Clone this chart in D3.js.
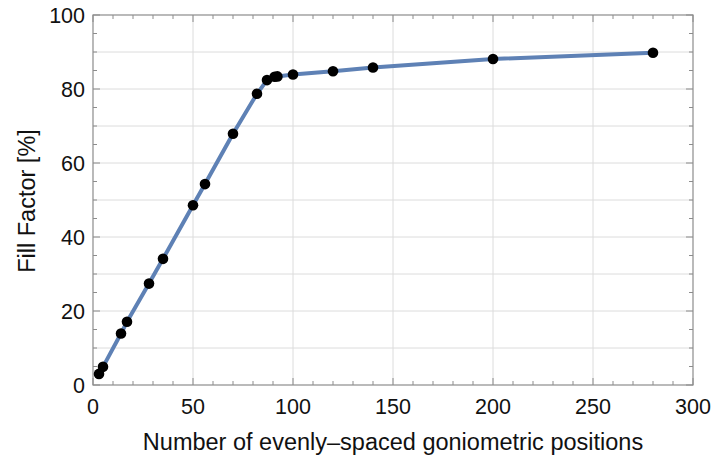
<!DOCTYPE html>
<html>
<head>
<meta charset="utf-8">
<script src="https://cdn.jsdelivr.net/npm/d3@7"></script>
<style>
  html, body { margin: 0; padding: 0; background: #fff; }
  svg { display: block; font-family: "Liberation Sans", Arial, sans-serif; }
</style>
</head>
<body>
<svg id="chart" width="715" height="459"></svg>
<script>
// Fill factor vs. number of goniometric positions
const positions = [3, 5, 14, 17, 28, 35, 50, 56, 70, 82, 87, 90.8, 92.2, 100, 120, 140, 200, 280];
const fillFactor = [3.0, 4.9, 13.9, 17.1, 27.4, 34.1, 48.6, 54.3, 67.9, 78.7, 82.4, 83.3, 83.4, 83.9, 84.8, 85.8, 88.1, 89.8];

const xTicks = [0, 50, 100, 150, 200, 250, 300];
const yTicks = [0, 20, 40, 60, 80, 100];

const svg = d3.select("#chart");
const plot = { left: 93, right: 693, top: 15, bottom: 385 };

const x = d3.scaleLinear().domain([0, 300]).range([plot.left, plot.right]);
const y = d3.scaleLinear().domain([0, 100]).range([plot.bottom, plot.top]);

const frameColor = "#8c8c8c";
const gridColor = "#dcdcdc";

// grid lines
const g = svg.append("g");
g.selectAll(".gx").data(d3.range(50, 300, 50)).join("line")
  .attr("x1", d => x(d)).attr("x2", d => x(d))
  .attr("y1", plot.top).attr("y2", plot.bottom)
  .attr("stroke", gridColor).attr("stroke-width", 1);
g.selectAll(".gy").data(d3.range(10, 100, 10)).join("line")
  .attr("x1", plot.left).attr("x2", plot.right)
  .attr("y1", d => y(d)).attr("y2", d => y(d))
  .attr("stroke", gridColor).attr("stroke-width", 1);

// ticks on all four sides, pointing inward
const xMinor = d3.range(0, 301, 10);
const yMinor = d3.range(0, 101, 5);
const t = svg.append("g").attr("stroke", frameColor).attr("stroke-width", 1);
xMinor.forEach(v => {
  const len = v % 50 === 0 ? 7 : 4;
  t.append("line").attr("x1", x(v)).attr("x2", x(v)).attr("y1", plot.bottom).attr("y2", plot.bottom - len);
  t.append("line").attr("x1", x(v)).attr("x2", x(v)).attr("y1", plot.top).attr("y2", plot.top + len);
});
yMinor.forEach(v => {
  const len = v % 20 === 0 ? 7 : 4;
  t.append("line").attr("y1", y(v)).attr("y2", y(v)).attr("x1", plot.left).attr("x2", plot.left + len);
  t.append("line").attr("y1", y(v)).attr("y2", y(v)).attr("x1", plot.right).attr("x2", plot.right - len);
});

// frame
svg.append("rect")
  .attr("x", plot.left).attr("y", plot.top)
  .attr("width", plot.right - plot.left).attr("height", plot.bottom - plot.top)
  .attr("fill", "none").attr("stroke", frameColor).attr("stroke-width", 1.2);

// tick labels
svg.append("g").selectAll("text").data(xTicks).join("text")
  .attr("x", d => x(d)).attr("y", plot.bottom + 29)
  .attr("text-anchor", "middle")
  .attr("font-size", 21.5).attr("fill", "#111")
  .text(d => d);
svg.append("g").selectAll("text").data(yTicks).join("text")
  .attr("x", plot.left - 8).attr("y", d => y(d) + 7.8)
  .attr("text-anchor", "end")
  .attr("font-size", 21.5).attr("fill", "#111")
  .text(d => d);

// axis titles
svg.append("text")
  .attr("x", 393).attr("y", 450)
  .attr("text-anchor", "middle")
  .attr("font-size", 23.5).attr("fill", "#111")
  .text("Number of evenly\u2013spaced goniometric positions");
svg.append("text")
  .attr("transform", "translate(35,201) rotate(-90)")
  .attr("text-anchor", "middle")
  .attr("font-size", 23.5).attr("fill", "#111")
  .text("Fill Factor [%]");

// curve and points
const pts = positions.map((p, i) => [p, fillFactor[i]]);
svg.append("path")
  .datum(pts)
  .attr("d", d3.line().x(d => x(d[0])).y(d => y(d[1])))
  .attr("fill", "none").attr("stroke", "#5e81b5")
  .attr("stroke-width", 4).attr("stroke-linejoin", "round");
svg.append("g").selectAll("circle").data(pts).join("circle")
  .attr("cx", d => x(d[0])).attr("cy", d => y(d[1]))
  .attr("r", 5.3).attr("fill", "#000");
</script>
</body>
</html>
